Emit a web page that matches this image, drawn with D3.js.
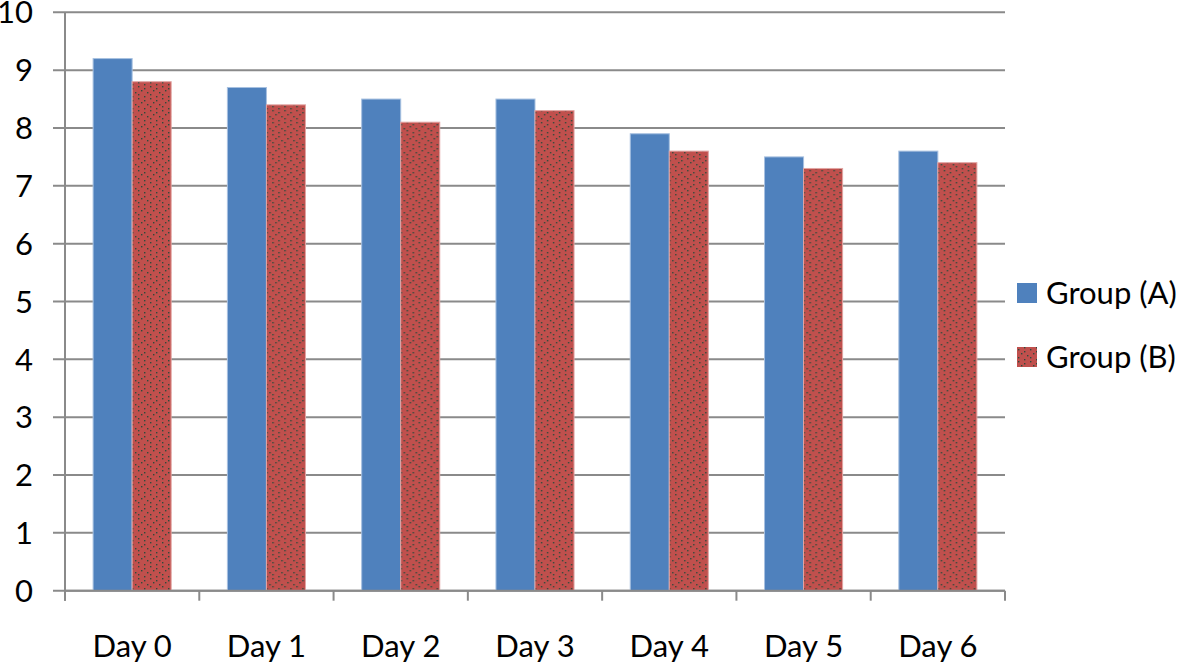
<!DOCTYPE html>
<html><head><meta charset="utf-8">
<script src="https://cdn.jsdelivr.net/npm/d3@7"></script>
<style>html,body{margin:0;padding:0;background:#fff;}svg{display:block;}</style>
</head><body>
<script>
const categories = ["Day 0","Day 1","Day 2","Day 3","Day 4","Day 5","Day 6"];
const seriesNames = ["Group (A)","Group (B)"];
const groupA = [9.2, 8.7, 8.5, 8.5, 7.9, 7.5, 7.6];
const groupB = [8.8, 8.4, 8.1, 8.3, 7.6, 7.3, 7.4];
const yTicks = [0,1,2,3,4,5,6,7,8,9,10];

(function(){
const W = 1181, H = 664;
const mLeft = 65, mRight = 1005, mTop = 12.3, mBottom = 590.7;
const font = "Lato, 'Open Sans', sans-serif";
const fs = 31;
const colors = ["#4F81BD", "#C0504D"];
const edge = ["#A7C0E0", "#E2A5A3"];

const svg = d3.select("body").append("svg").attr("width", W).attr("height", H);

const defs = svg.append("defs");
const pat = defs.append("pattern").attr("id","dots").attr("patternUnits","userSpaceOnUse")
  .attr("width", 12).attr("height", 12);
pat.append("rect").attr("width",12).attr("height",12).attr("fill", colors[1]);
[[1,2],[7,0],[4,6],[10,8],[1,10],[7,4]].forEach(([x,y]) => pat.append("rect").attr("x",x).attr("y",y).attr("width",1.4).attr("height",1.4).attr("fill","#2f4a3c"));

const x0 = d3.scaleBand().domain(categories).range([mLeft, mRight]).paddingInner(0).paddingOuter(0);
const x1 = d3.scaleBand().domain(seriesNames).range([0, x0.bandwidth()]).paddingInner(0).paddingOuter(0.72);
const y = d3.scaleLinear().domain([0, 10]).range([mBottom, mTop]);

// gridlines
svg.append("g").selectAll("line").data(yTicks).join("line")
  .attr("x1", mLeft - 12).attr("x2", mRight)
  .attr("y1", d => y(d)).attr("y2", d => y(d))
  .attr("stroke", "#8a8a8a").attr("stroke-width", 2);

// y tick labels
svg.append("g").selectAll("text").data(yTicks).join("text")
  .attr("x", 33).attr("y", d => y(d)).attr("dy", "0.36em")
  .attr("text-anchor", "end").attr("font-family", font).attr("font-size", fs)
  .attr("fill", "#000").text(d => d);

// bars
const data = categories.map((c, i) => ({c, vals: [groupA[i], groupB[i]]}));
const g = svg.append("g").selectAll("g").data(data).join("g")
  .attr("transform", d => `translate(${x0(d.c)},0)`);
g.selectAll("rect").data(d => d.vals.map((v, k) => ({k, v}))).join("rect")
  .attr("x", d => x1(seriesNames[d.k]))
  .attr("y", d => y(d.v))
  .attr("width", x1.bandwidth())
  .attr("height", d => y(0) - y(d.v))
  .attr("fill", d => d.k === 0 ? colors[0] : "url(#dots)")
  .attr("stroke", d => edge[d.k]).attr("stroke-width", 1);

// axes lines
svg.append("line").attr("x1", mLeft).attr("x2", mLeft).attr("y1", mTop).attr("y2", mBottom + 10)
  .attr("stroke", "#8a8a8a").attr("stroke-width", 2);
svg.append("line").attr("x1", mLeft).attr("x2", mRight).attr("y1", mBottom).attr("y2", mBottom)
  .attr("stroke", "#8a8a8a").attr("stroke-width", 2);
const bounds = categories.map(c => x0(c)).concat([x0(categories[categories.length-1]) + x0.bandwidth()]);
svg.append("g").selectAll("line").data(bounds).join("line")
  .attr("x1", d => d).attr("x2", d => d).attr("y1", mBottom).attr("y2", mBottom + 10)
  .attr("stroke", "#8a8a8a").attr("stroke-width", 2);

// x labels
svg.append("g").selectAll("text").data(categories).join("text")
  .attr("x", d => x0(d) + x0.bandwidth()/2).attr("y", 657)
  .attr("text-anchor", "middle").attr("font-family", font).attr("font-size", fs)
  .attr("fill", "#000").text(d => d);

// legend
const lg = svg.append("g").selectAll("g").data(seriesNames).join("g")
  .attr("transform", (d, i) => `translate(1017,${283 + i * 64})`);
lg.append("rect").attr("width", 20).attr("height", 20)
  .attr("fill", (d, i) => i === 0 ? colors[0] : "url(#dots)");
lg.append("text").attr("x", 29).attr("y", 21).attr("font-family", font).attr("font-size", fs)
  .attr("fill", "#000").text(d => d);
})();
</script>
</body></html>
